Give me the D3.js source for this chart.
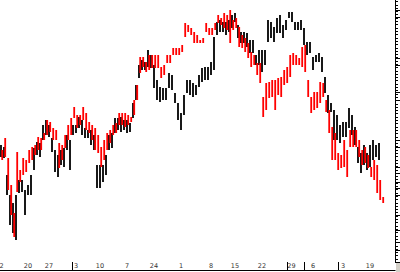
<!DOCTYPE html>
<html>
<head>
<meta charset="utf-8">
<script src="https://cdn.jsdelivr.net/npm/d3@7"></script>
<style>
  html, body { margin: 0; padding: 0; background: #fff; overflow: hidden; }
  #chart { width: 400px; height: 272px; }
  .dateText { font-family: "DejaVu Sans", sans-serif; font-size: 6.5px; fill: #333; }
</style>
</head>
<body>
<div id="chart"></div>
<script>
"use strict";

// black series, one bar per session: highs and lows
let blackHigh = [15.5, 15.3, 12.5, 10.5, 9.7, 10.5, 12.0, 12.0, 11.0, 11.5, 12.5, 15.2, 15.8, 15.7, 17.5, 18.0,
  17.5, 16.2, 15.0, 14.5, 15.0, 15.2, 16.5, 16.0, 17.5, 17.5, 18.3, 18.0, 17.2, 17.0, 17.0, 16.5,
  13.5, 13.5, 13.5, 14.5, 16.5, 16.7, 18.2, 18.2, 18.3, 18.0, 18.0, 17.7, 19.7, 21.5, 23.5, 24.0,
  23.8, 25.0, 24.5, 23.5, 22.0, 21.3, 21.2, 21.2, 22.7, 22.5, 20.7, 19.7, 18.7, 20.5, 22.0, 22.0,
  21.7, 21.5, 22.5, 23.2, 23.3, 23.3, 23.8, 26.3, 27.8, 28.0, 27.8, 27.8, 28.0, 28.5, 28.7, 27.5,
  26.8, 26.8, 26.7, 26.0, 26.0, 24.5, 25.0, 25.0, 25.0, 28.0, 27.8, 27.3, 28.2, 28.5, 27.5, 28.0,
  28.8, 28.8, 27.8, 27.8, 28.0, 27.2, 25.8, 25.8, 24.3, 24.5, 24.7, 24.3, 22.3, 20.5, 19.7, 19.0,
  18.5, 17.5, 17.8, 17.8, 19.2, 18.5, 17.3, 15.3, 14.7, 15.5, 14.7, 15.5, 16.0, 15.5, 15.7];
let blackLow = [14.3, 14.2, 10.5, 7.5, 6.7, 6.0, 10.7, 10.8, 8.5, 10.5, 10.5, 13.0, 14.5, 14.3, 16.0, 16.5,
  16.3, 14.8, 12.8, 12.3, 13.5, 13.3, 15.0, 13.0, 16.5, 16.7, 17.2, 16.5, 16.2, 16.2, 15.5, 15.0,
  11.2, 11.2, 11.8, 12.5, 15.0, 15.2, 16.7, 17.0, 16.8, 17.0, 16.7, 16.8, 18.2, 20.0, 22.2, 23.0,
  23.0, 23.3, 23.2, 21.2, 20.0, 19.8, 20.0, 20.0, 21.2, 21.0, 19.7, 18.0, 17.0, 18.5, 20.7, 20.5,
  20.3, 20.5, 21.3, 21.8, 22.0, 22.0, 22.5, 23.0, 26.5, 26.8, 26.8, 26.5, 26.8, 27.2, 27.8, 26.2,
  25.7, 25.7, 25.3, 24.7, 24.7, 23.5, 23.5, 22.8, 23.5, 25.8, 26.2, 25.8, 26.7, 26.7, 26.2, 27.0,
  28.2, 27.8, 27.0, 27.0, 27.0, 25.5, 24.5, 24.7, 23.0, 23.8, 23.8, 22.8, 20.7, 18.7, 18.8, 16.0,
  16.0, 15.7, 16.3, 16.3, 17.2, 16.5, 15.5, 13.7, 12.7, 13.5, 13.0, 13.3, 14.0, 14.3, 14.0];

// red series
let redHigh = [15.0, 16.2, 14.2, 11.5, 8.7, 14.8, 13.0, 14.2, 14.0, 15.0, 15.3, 15.5, 16.3, 16.2, 16.7, 18.0,
  17.8, 17.2, 17.0, 15.7, 15.5, 16.5, 17.5, 18.2, 19.3, 18.5, 18.5, 19.3, 18.7, 17.8, 17.5, 17.2,
  16.5, 15.3, 16.0, 16.7, 17.0, 17.5, 17.7, 18.7, 18.7, 18.7, 18.5, 18.3, 20.0, 21.5, 24.3, 24.3,
  23.8, 24.5, 24.5, 24.5, 24.5, 23.3, 23.5, 24.5, 24.5, 25.2, 25.2, 25.2, 25.5, 27.7, 27.5, 27.2,
  26.8, 26.5, 26.0, 26.2, 27.7, 27.2, 27.2, 27.7, 28.5, 28.2, 28.7, 28.5, 29.0, 28.0, 28.2, 27.3,
  26.5, 26.2, 25.7, 24.8, 24.5, 23.7, 23.7, 20.3, 21.7, 21.8, 22.0, 22.0, 22.2, 22.3, 23.0, 23.3,
  24.5, 24.7, 24.5, 24.2, 25.3, 25.5, 22.0, 20.3, 20.8, 20.8, 21.8, 21.7, 20.0, 19.0, 17.3, 16.7,
  14.7, 14.5, 16.0, 15.0, 17.0, 17.0, 17.0, 16.0, 15.0, 15.3, 14.5, 13.3, 14.0, 13.5, 12.0, 10.3];
let redLow = [14.0, 14.3, 11.0, 8.5, 6.3, 10.8, 11.8, 12.5, 12.8, 13.7, 14.0, 14.5, 15.0, 15.0, 16.0, 16.5,
  16.8, 16.0, 16.0, 13.2, 14.0, 15.2, 16.0, 16.5, 18.2, 17.2, 17.5, 18.0, 17.0, 16.7, 16.0, 15.0,
  14.7, 13.3, 14.0, 15.0, 15.7, 16.5, 16.7, 17.5, 17.5, 17.3, 17.5, 17.8, 18.5, 20.0, 22.7, 23.3,
  22.8, 23.0, 23.2, 23.2, 23.2, 22.2, 22.5, 23.7, 23.7, 24.5, 24.5, 24.5, 24.8, 26.3, 26.8, 26.5,
  25.7, 25.7, 25.7, 25.7, 26.8, 26.5, 26.5, 27.0, 27.7, 27.5, 27.2, 27.0, 25.7, 27.0, 27.2, 25.3,
  25.2, 24.8, 24.2, 23.3, 23.5, 22.5, 21.7, 18.3, 19.0, 20.2, 20.3, 19.0, 20.5, 20.3, 21.5, 21.7,
  22.3, 23.5, 23.5, 23.5, 23.3, 22.8, 20.3, 18.7, 19.0, 19.2, 19.7, 20.3, 18.8, 16.7, 14.0, 14.0,
  13.0, 13.2, 13.3, 12.3, 15.3, 15.3, 15.3, 14.3, 13.5, 13.7, 13.2, 12.3, 12.0, 10.7, 10.0, 9.7];

// date labels along the bottom, placed on session index
let dateLabels = ["2", "20", "27", "3", "10", "7", "24", "1", "8", "15", "22", "29", "6", "3", "19"];
let dateIndex = [0.2, 9, 16, 25, 33, 42, 51, 60, 70, 78, 87, 96.8, 104, 114, 123];
let periodBreaks = [23.7, 95.2, 101, 112.4];

// right price axis ticks (no labels visible)
let majorTicks = [29.0, 28.3, 24.2, 23.5, 20.8, 20.0, 16.0, 15.3, 13.3, 12.7, 11.8, 11.2, 10.5, 8.5, 7.0, 5.8, 5.0, 3.8];

let PriceView = function(div) {
  let self = {
    div: null,
    svg: null,
    width: 400,
    height: 272
  };

  init();

  function init() {
    self.div = d3.select(div);
    self.svg = self.div.append("svg")
      .attr("width", self.width)
      .attr("height", self.height)
      .attr("viewBox", [0, 0, self.width, self.height].join(" "))
      .style("display", "block");
  }

  function draw() {
    let plotRight = 395.5;
    let plotBottom = 270;
    let n = redHigh.length;

    let x = d3.scaleLinear()
      .domain([0, n - 1])
      .range([1, 1 + 3 * (n - 1)]);

    let y = d3.scaleLinear()
      .domain([3, 30])
      .range([270, 0]);

    let barWidth = 1.8;

    // black bars first, red drawn over a hair to the right
    let blackData = blackHigh.map((h, i) => ({ i: i, high: h, low: blackLow[i] }));
    let redData = redHigh.map((h, i) => ({ i: i, high: h, low: redLow[i] }));

    self.svg.append("g")
      .selectAll("rect")
      .data(blackData)
      .enter().append("rect")
      .attr("x", d => x(d.i) - barWidth / 2)
      .attr("y", d => y(d.high))
      .attr("width", barWidth)
      .attr("height", d => Math.max(1, y(d.low) - y(d.high)))
      .attr("fill", "#000");

    self.svg.append("g")
      .selectAll("rect")
      .data(redData)
      .enter().append("rect")
      .attr("x", d => x(d.i) - barWidth / 2 + 1.2)
      .attr("y", d => y(d.high))
      .attr("width", barWidth)
      .attr("height", d => Math.max(1, y(d.low) - y(d.high)))
      .attr("fill", "#ff0000");

    // bottom axis line
    self.svg.append("line")
      .attr("x1", 0)
      .attr("x2", plotRight)
      .attr("y1", plotBottom + 0.5)
      .attr("y2", plotBottom + 0.5)
      .attr("stroke", "#000")
      .attr("stroke-width", 1);

    // date labels
    self.svg.append("g")
      .selectAll("text")
      .data(dateLabels)
      .enter().append("text")
      .attr("class", "dateText")
      .attr("x", (d, i) => x(dateIndex[i]))
      .attr("y", 268)
      .style("text-anchor", "middle")
      .text(d => d);

    self.svg.append("g")
      .selectAll("line")
      .data(periodBreaks)
      .enter().append("line")
      .attr("x1", d => Math.round(x(d)) + 0.5)
      .attr("x2", d => Math.round(x(d)) + 0.5)
      .attr("y1", 262)
      .attr("y2", plotBottom)
      .attr("stroke", "#000")
      .attr("stroke-width", 1);

    // right axis, ticks pointing outward
    let axisG = self.svg.append("g")
      .attr("transform", `translate(${plotRight}, 0)`);

    axisG.append("line")
      .attr("x1", 0).attr("x2", 0)
      .attr("y1", 0).attr("y2", 263)
      .attr("stroke", "#000")
      .attr("stroke-width", 1);

    let minorTicks = d3.range(3.8, 30, 0.33);

    axisG.selectAll(".minor")
      .data(minorTicks)
      .enter().append("line")
      .attr("class", "minor")
      .attr("x1", 0).attr("x2", 2.5)
      .attr("y1", d => Math.round(y(d)) + 0.5)
      .attr("y2", d => Math.round(y(d)) + 0.5)
      .attr("stroke", "#000");

    axisG.selectAll(".major")
      .data(majorTicks)
      .enter().append("line")
      .attr("class", "major")
      .attr("x1", 0).attr("x2", 6)
      .attr("y1", d => Math.round(y(d)) + 0.5)
      .attr("y2", d => Math.round(y(d)) + 0.5)
      .attr("stroke", "#000");

    // grey corner box
    self.svg.append("rect")
      .attr("x", plotRight + 0.5)
      .attr("y", 263)
      .attr("width", 5)
      .attr("height", 9)
      .attr("fill", "#d4d0c8");
  }

  return {
    draw
  };
};

let view = PriceView("#chart");
view.draw();
</script>
</body>
</html>
